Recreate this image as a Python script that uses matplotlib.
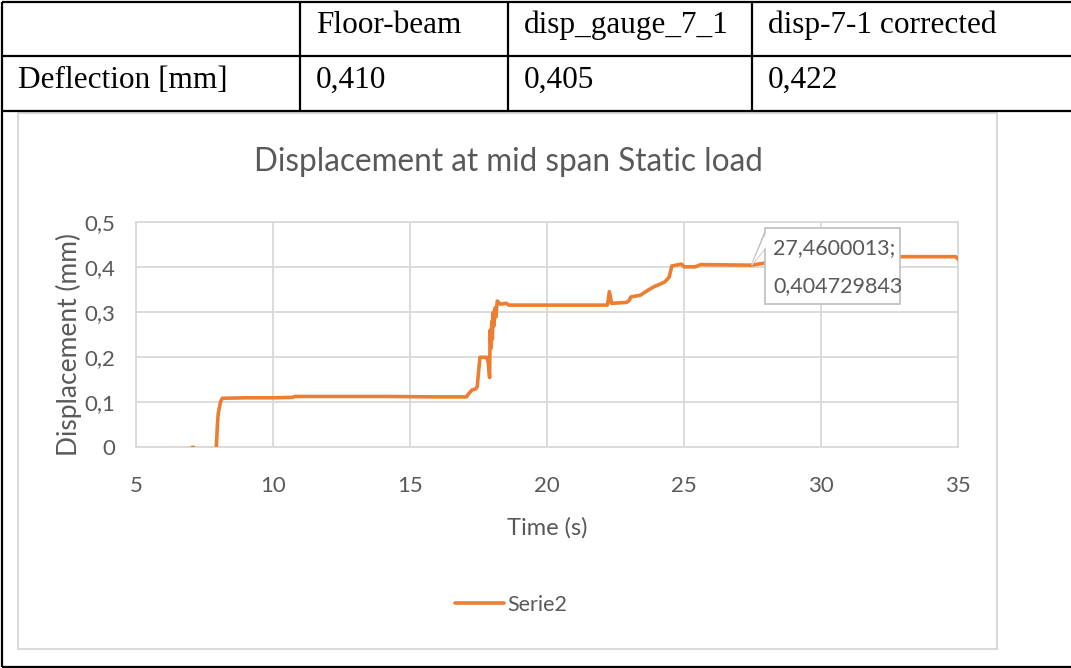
import numpy as np
import matplotlib
matplotlib.use("Agg")
import matplotlib.pyplot as plt
from matplotlib.lines import Line2D
from matplotlib.patches import Rectangle, Polygon

W, H = 1071, 668

# table contents
col_heads = ["", "Floor-beam", "disp_gauge_7_1", "disp-7-1 corrected"]
row_label = "Deflection [mm]"
row_values = ["0,410", "0,405", "0,422"]

# measured mid span displacement, static load (NaN = gap in the record)
time_s = [7.05, 7.10, np.nan,
          7.93, 7.97, 8.00, 8.08, 8.15, 9.00, 10.00, 10.70, 10.80, 12.00, 14.00,
          16.00, 17.05, 17.15, 17.25, 17.40, 17.45, 17.50, 17.55, 17.80, 17.85,
          17.90, 17.92, 17.95, 17.98, 18.00, 18.03, 18.06, 18.10, 18.13, 18.18,
          18.30, 18.50, 18.60, 20.00, 22.20, 22.27, 22.35, 22.90, 23.00, 23.05,
          23.40, 23.70, 23.90, 24.10, 24.30, 24.45, 24.55, 24.90, 25.00, 25.40,
          25.60, 27.46, 28.00, 30.00, 32.90, 34.90, 35.00]
disp_mm = [0.0, 0.0, np.nan,
           0.0, 0.050, 0.075, 0.100, 0.109, 0.110, 0.110, 0.111, 0.113, 0.113, 0.113,
           0.112, 0.112, 0.120, 0.127, 0.130, 0.135, 0.170, 0.200, 0.200, 0.190,
           0.155, 0.260, 0.220, 0.280, 0.240, 0.300, 0.270, 0.310, 0.290, 0.325,
           0.318, 0.320, 0.316, 0.316, 0.316, 0.346, 0.320, 0.322, 0.327, 0.334,
           0.338, 0.350, 0.357, 0.362, 0.368, 0.378, 0.403, 0.407, 0.401, 0.401,
           0.406, 0.404729843, 0.410, 0.420, 0.4236, 0.4236, 0.418]

callout_x = 27.4600013
callout_y = 0.404729843

x_ticks = [5, 10, 15, 20, 25, 30, 35]
y_ticks = [0, 0.1, 0.2, 0.3, 0.4, 0.5]
y_tick_labels = ["0", "0,1", "0,2", "0,3", "0,4", "0,5"]

orange = "#ED7D31"
grey_txt = "#595959"
grid_c = "#D9D9D9"
sans = ["Lato", "DejaVu Sans"]
serif = ["Liberation Serif", "DejaVu Serif"]


def fx(x):
    return x / W


def fy(y):
    return 1 - y / H


fig = plt.figure(figsize=(W / 100, H / 100), dpi=100)
fig.patch.set_facecolor("white")

# ---- table grid ----
def hline(y, x0, x1, **kw):
    fig.add_artist(Line2D([fx(x0), fx(x1)], [fy(y), fy(y)], **kw))


def vline(x, y0, y1, **kw):
    fig.add_artist(Line2D([fx(x), fx(x)], [fy(y0), fy(y1)], **kw))


tbl = dict(color="black", lw=1.6, solid_capstyle="butt")
hline(2, 2, W, **tbl)
hline(56, 2, W, **tbl)
hline(110.5, 2, W, **tbl)
hline(666.5, 2, W, **tbl)
vline(2, 2, 667, **tbl)
for xc in [300, 508, 752]:
    vline(xc, 2, 110.5, **tbl)

col_x = [18, 316, 524, 768]
for xc, txt in zip(col_x, col_heads):
    fig.text(fx(xc), fy(33), txt, family=serif, fontsize=22.5,
             va="baseline", ha="left")
fig.text(fx(col_x[0]), fy(88), row_label, family=serif, fontsize=22.5,
         va="baseline", ha="left")
for xc, txt in zip(col_x[1:], row_values):
    fig.text(fx(xc), fy(88), txt, family=serif, fontsize=22.5,
             va="baseline", ha="left")

# ---- chart frame ----
fig.add_artist(Rectangle((fx(18), fy(648.5)), fx(997) - fx(18), fy(112.5) - fy(648.5),
                         transform=fig.transFigure, fill=False,
                         edgecolor=grid_c, lw=1.5))

fig.text(fx(508), fy(162), "Displacement at mid span Static load",
         family=sans, fontsize=22.7, color=grey_txt,
         ha="center", va="center")

ax = fig.add_axes([fx(136), fy(447.3), (958.3 - 136) / W, 225 / H])
ax.plot(time_s, disp_mm, color=orange, lw=2.6, solid_joinstyle="round",
        solid_capstyle="round", label="Serie2", zorder=3)

ax.set_xlim(5, 35)
ax.set_ylim(0, 0.5)
ax.set_xticks(x_ticks)
ax.set_xticklabels([str(t) for t in x_ticks])
ax.set_yticks(y_ticks)
ax.set_yticklabels(y_tick_labels)
ax.tick_params(axis="x", length=0, pad=21, labelsize=16, labelcolor=grey_txt)
ax.tick_params(axis="y", length=0, pad=15, labelsize=16, labelcolor=grey_txt)
for lab in ax.get_xticklabels() + ax.get_yticklabels():
    lab.set_family(sans)
ax.grid(True, color=grid_c, lw=1.3)
ax.set_axisbelow(True)
for sp in ax.spines.values():
    sp.set_color(grid_c)
    sp.set_linewidth(1.3)

ax.set_xlabel("Time (s)", family=sans, fontsize=17, color=grey_txt)
ax.set_ylabel("Displacement (mm)", family=sans, fontsize=19, color=grey_txt)
ax.xaxis.set_label_coords(0.5, (447.3 - 517) / 225)
ax.yaxis.set_label_coords((82 - 136) / 822.3, (447.3 - 344.5) / 225)

# ---- data callout ----
tip = ax.transData.transform((callout_x, callout_y))
tip_fig = fig.transFigure.inverted().transform(tip)
box_l, box_r, box_t, box_b = 765, 900, 228, 304
fig.add_artist(Polygon([(fx(box_l), fy(box_t + 4)), tuple(tip_fig),
                        (fx(box_l), fy(box_t + 20))],
                       closed=True, transform=fig.transFigure,
                       facecolor="white", edgecolor="#BFBFBF", lw=1.2, zorder=5))
fig.add_artist(Rectangle((fx(box_l), fy(box_b)), fx(box_r) - fx(box_l),
                         fy(box_t) - fy(box_b), transform=fig.transFigure,
                         facecolor="white", edgecolor="#BFBFBF", lw=1.2, zorder=6))
fig.add_artist(Polygon([(fx(box_l + 1), fy(box_t + 5)), tuple(tip_fig),
                        (fx(box_l + 1), fy(box_t + 19))],
                       closed=True, transform=fig.transFigure,
                       facecolor="white", edgecolor="none", zorder=7))
fig.text(fx(773), fy(248), "27,4600013;", family=sans, fontsize=15.5,
         color=grey_txt, va="center", ha="left", zorder=8)
fig.text(fx(773), fy(286), "0,404729843", family=sans, fontsize=15.5,
         color=grey_txt, va="center", ha="left", zorder=8)

# ---- legend ----
ax.legend(loc="center", bbox_to_anchor=(fx(511), fy(605)),
          bbox_transform=fig.transFigure, frameon=False,
          prop={"family": sans, "size": 15.5}, labelcolor=grey_txt,
          handlelength=2.3, handletextpad=0.15)

fig.savefig("out.png", dpi=100, facecolor="white")
